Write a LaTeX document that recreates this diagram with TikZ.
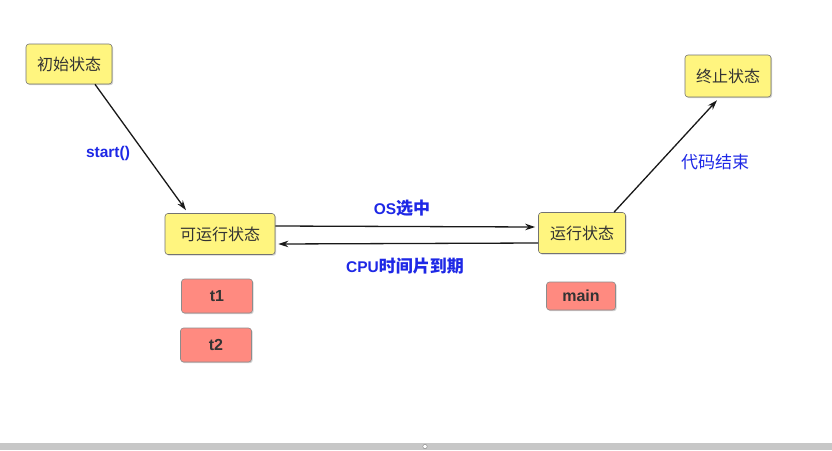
\documentclass[tikz,border=0pt]{standalone}
\usepackage{fontspec}
\setmainfont{Liberation Sans}
\newfontfamily\cjk{Noto Sans CJK SC}
\usetikzlibrary{arrows.meta,shadows}
\definecolor{stateyellow}{HTML}{FFF57F}
\definecolor{statered}{HTML}{FF8A80}
\definecolor{labelblue}{HTML}{1E28E6}
\definecolor{boxtext}{HTML}{333333}
\tikzset{
  statebox/.style={draw=black!55, fill=stateyellow, rounded corners=3pt, line width=0.6pt,
    font=\cjk\fontsize{16}{18}\selectfont, text=boxtext, anchor=center,
    drop shadow={shadow xshift=1.2pt, shadow yshift=-1.2pt, opacity=0.35}},
  threadbox/.style={draw=black!45, fill=statered, rounded corners=3pt, line width=0.6pt,
    font=\bfseries\fontsize{16}{18}\selectfont, text=boxtext, anchor=center,
    drop shadow={shadow xshift=1.2pt, shadow yshift=-1.2pt, opacity=0.35}},
  conn/.style={-{Stealth[length=10pt,width=6.5pt]}, line width=1.3pt, black!90},
  lbl/.style={text=labelblue, font=\bfseries\fontsize{15.5}{18}\selectfont},
  cjklbl/.style={text=labelblue, font=\cjk\fontsize{17}{19}\selectfont},
}
\newcommand{\lcjk}[1]{{\cjk\fontsize{17}{19}\selectfont #1}}
\begin{document}
\begin{tikzpicture}[x=1pt,y=-1pt]
\useasboundingbox (0,0) rectangle (832,450);
\fill[white] (0,0) rectangle (832,450);
% scrollbar
\fill[black!22] (0,443) rectangle (832,450);
\draw[black!50, fill=white, line width=0.4pt] (425,446.5) circle (2.2);

\node[statebox, minimum width=86pt, minimum height=40pt] (init) at (69,64) {初始状态};
\node[statebox, minimum width=110pt, minimum height=41pt] (runnable) at (220,234) {可运行状态};
\node[statebox, minimum width=87pt, minimum height=41pt] (running) at (582,233) {运行状态};
\node[statebox, minimum width=86pt, minimum height=42pt] (term) at (728,76) {终止状态};

\node[threadbox, minimum width=71pt, minimum height=34pt] (t1) at (217,296) {t1};
\node[threadbox, minimum width=71pt, minimum height=34pt] (t2) at (216,345) {t2};
\node[threadbox, minimum width=69pt, minimum height=28pt] (main) at (581,296) {main};

\draw[conn] ([xshift=26pt]init.south) -- ([xshift=-34pt,yshift=3pt]runnable.north);
\node[lbl] (lstart) at (108,153) {start()};

\draw[conn] ([yshift=8pt]runnable.east) -- ([xshift=-3pt,yshift=6pt]running.west);
\node[lbl] (los) at (402,208) {OS\lcjk{选中}};

\draw[conn] ([yshift=-10pt]running.west) -- ([xshift=3pt,yshift=-10pt]runnable.east);
\node[lbl] (lcpu) at (405,266) {CPU\lcjk{时间片到期}};

\draw[conn] ([xshift=32pt]running.north) -- ([xshift=-11pt,yshift=-3pt]term.south);
\node[cjklbl] (lend) at (715,162) {代码结束};
\end{tikzpicture}
\end{document}
